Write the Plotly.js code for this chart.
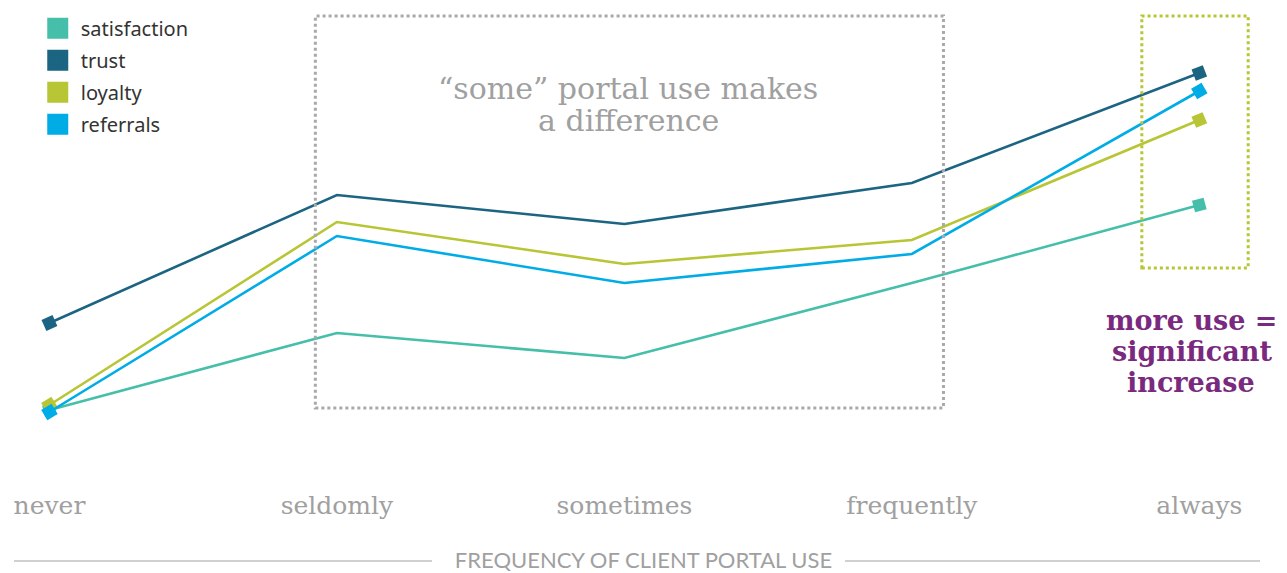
<!DOCTYPE html>
<html>
<head>
<meta charset="utf-8">
<script src="https://cdn.plot.ly/plotly-3.0.1.min.js"></script>
<style>html,body{margin:0;padding:0;background:#fff;}#chart{width:1287px;height:573px;}</style>
</head>
<body>
<div id="chart"></div>
<script>
// Categories (frequency of client portal use)
const categories = ["never", "seldomly", "sometimes", "frequently", "always"];
// Series values (relative score)
const satisfaction = [12.5, 31.75, 25.5, 44.25, 63.75];
const trust        = [34.25, 66.25, 59.0, 69.25, 96.75];
const loyalty      = [13.75, 59.5, 49.0, 55.0, 85.0];
const referrals    = [12.0, 56.0, 44.25, 51.5, 92.25];
const seriesNames  = ["satisfaction", "trust", "loyalty", "referrals"];
const seriesColors = ["#45bfa9", "#1b6482", "#b8c534", "#00ace6"];
const seriesData   = [satisfaction, trust, loyalty, referrals];
// marker tilt (style only) for the end markers
const endAngles    = [[-15, -15], [-24, -21], [-32, -23], [-31, -30]];

const xIdx = categories.map((c, i) => i);
const traces = [];
seriesData.forEach((vals, k) => {
  const last = vals.length - 1;
  traces.push({
    type: "scatter", mode: "lines+markers",
    x: xIdx, y: vals, name: seriesNames[k], showlegend: false,
    line: {color: seriesColors[k], width: 2.6},
    marker: {symbol: "square", color: seriesColors[k], opacity: 1,
             size: vals.map((v, i) => (i === 0 || i === last) ? 12 : 0),
             angle: vals.map((v, i) => i === 0 ? endAngles[k][0] : (i === last ? endAngles[k][1] : 0)),
             line: {width: 0}},
    hoverinfo: "skip"
  });
});
// legend swatches
seriesData.forEach((vals, k) => {
  traces.push({
    type: "scatter", mode: "markers", x: [null], y: [null],
    name: seriesNames[k], legendgroup: "g" + k, showlegend: true,
    marker: {symbol: "square", color: seriesColors[k], size: 16,
             line: {color: seriesColors[k], width: 5}}
  });
});

const grey = "#a0a0a0";
const serif = "'DejaVu Serif', serif";
const sans = "Lato, 'Noto Sans', sans-serif";
const layout = {
  width: 1287, height: 573,
  margin: {l: 0, r: 0, t: 0, b: 93},
  paper_bgcolor: "#fff", plot_bgcolor: "#fff",
  showlegend: true,
  legend: {x: 0.027, y: 0.982, xanchor: "left", yanchor: "top",
           font: {family: "'Noto Sans', Lato, sans-serif", size: 20, color: "#333"},
           tracegroupgap: 3, bgcolor: "rgba(0,0,0,0)", itemwidth: 36},
  xaxis: {
    range: [-0.172, 4.305], tickmode: "array", tickvals: xIdx, ticktext: categories,
    showgrid: false, zeroline: false, showline: false, ticks: "",
    tickfont: {family: serif, size: 25, color: grey},
    ticklabelstandoff: 8,
    title: {text: "FREQUENCY OF CLIENT PORTAL USE", standoff: 45,
            font: {family: sans, size: 22, color: grey}}
  },
  yaxis: {range: [-5, 115], visible: false, showgrid: false, zeroline: false},
  shapes: [
    {type: "rect", xref: "x", yref: "y", x0: 0.925, x1: 3.11, y0: 13, y1: 111,
     line: {color: "#a9a9a9", width: 3, dash: "dot"}},
    {type: "rect", xref: "x", yref: "y", x0: 3.80, x1: 4.17, y0: 48, y1: 111,
     line: {color: "#b8c534", width: 3, dash: "dot"}},
    {type: "line", xref: "paper", yref: "paper", x0: 14/1287, x1: 432/1287, y0: -0.1688, y1: -0.1688,
     line: {color: "#d0d0d0", width: 2}},
    {type: "line", xref: "paper", yref: "paper", x0: 845/1287, x1: 1260/1287, y0: -0.1688, y1: -0.1688,
     line: {color: "#d0d0d0", width: 2}}
  ],
  annotations: [
    {xref: "paper", yref: "paper", x: 628/1287, y: (480 - 88)/480, xanchor: "center", yanchor: "middle",
     text: "“some” portal use makes", showarrow: false,
     font: {family: serif, size: 30, color: grey}},
    {xref: "paper", yref: "paper", x: 628/1287, y: (480 - 120)/480, xanchor: "center", yanchor: "middle",
     text: "a difference", showarrow: false,
     font: {family: serif, size: 30, color: grey}},
    {xref: "paper", yref: "paper", x: 1191/1287, y: (480 - 320)/480, xanchor: "center", yanchor: "middle",
     text: "<b>more use =</b>", showarrow: false,
     font: {family: serif, size: 27, color: "#7a2a7e"}},
    {xref: "paper", yref: "paper", x: 1192/1287, y: (480 - 351)/480, xanchor: "center", yanchor: "middle",
     text: "<b>significant</b>", showarrow: false,
     font: {family: serif, size: 27, color: "#7a2a7e"}},
    {xref: "paper", yref: "paper", x: 1191/1287, y: (480 - 382)/480, xanchor: "center", yanchor: "middle",
     text: "<b>increase</b>", showarrow: false,
     font: {family: serif, size: 27, color: "#7a2a7e"}}
  ]
};
Plotly.newPlot("chart", traces, layout, {displayModeBar: false, staticPlot: true});
</script>
</body>
</html>
